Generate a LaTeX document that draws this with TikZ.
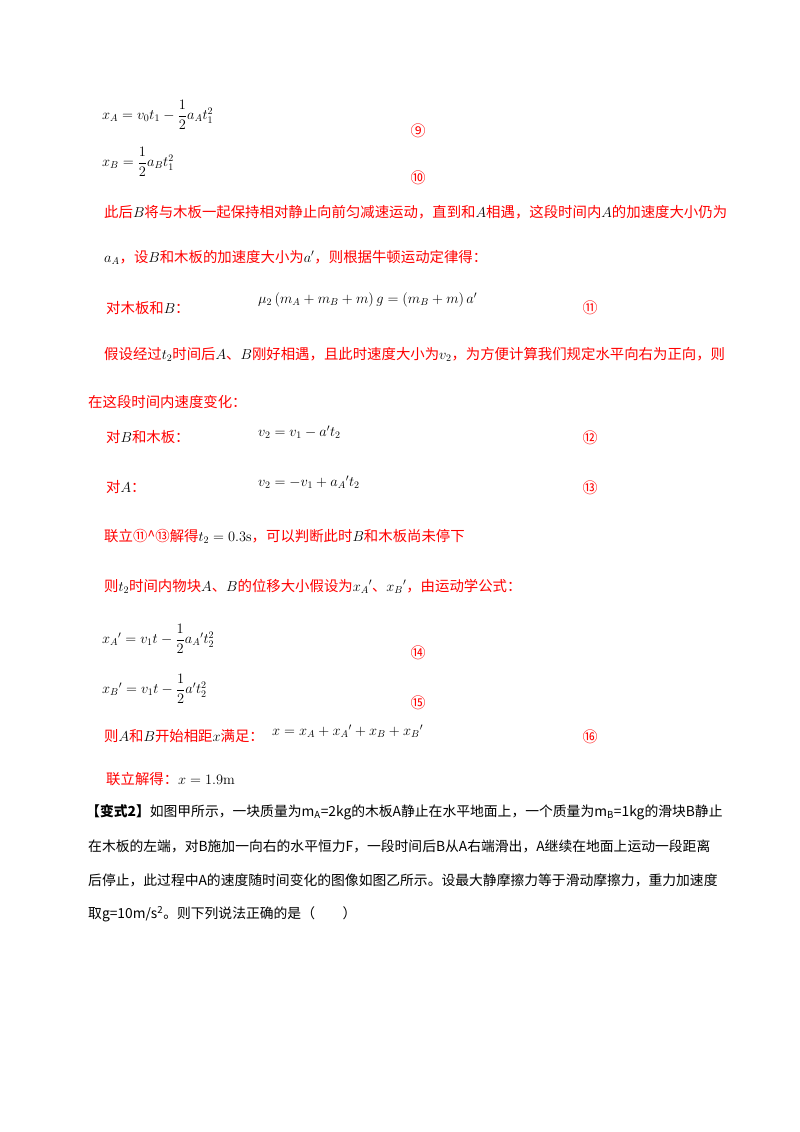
\documentclass[tikz,border=0pt]{standalone}
\usepackage{fontspec}
\usepackage{amsmath}
\newfontfamily\cjk{Noto Sans CJK SC}
\newcommand{\bk}[1]{\textcolor{black}{$#1$}}
\begin{document}
\begin{tikzpicture}[x=1pt,y=-1pt,
  rt/.style={anchor=west,inner sep=0pt,text=red,font=\cjk\fontsize{14.4}{16}\selectfont},
  bt/.style={anchor=west,inner sep=0pt,text=black,font=\cjk\fontsize{13.8}{16}\selectfont},
  eq/.style={anchor=west,inner sep=0pt,font=\fontsize{14}{16}\selectfont},
  num/.style={anchor=center,inner sep=0pt,text=red,font=\cjk\fontsize{15}{17}\selectfont}]
\fill[white] (0,0) rectangle (800,1132);
\node[eq] (e9) at (102,115) {$x_A=v_0t_1-\dfrac12 a_At_1^2$};
\node[num] (n9) at (418,131) {⑨};
\node[eq] (e10) at (102,162) {$x_B=\dfrac12 a_Bt_1^2$};
\node[num] (n10) at (418,178) {⑩};
\node[rt] (l1) at (104,212) {此后\bk{B}将与木板一起保持相对静止向前匀减速运动，直到和\bk{A}相遇，这段时间内\bk{A}的加速度大小仍为};
\node[rt] (l2) at (104,257) {\bk{a_A}，设\bk{B}和木板的加速度大小为\bk{a'}，则根据牛顿运动定律得：};
\node[rt] (l3) at (106,308) {对木板和\bk{B}：};
\node[eq] (e11) at (258,300) {$\mu_2\left(m_A+m_B+m\right)g=\left(m_B+m\right)a'$};
\node[num] (n11) at (590,308) {⑪};
\node[rt] (l4) at (104,354) {假设经过\bk{t_2}时间后\bk{A}、\bk{B}刚好相遇，且此时速度大小为\bk{v_2}，为方便计算我们规定水平向右为正向，则};
\node[rt] (l5) at (88,402) {在这段时间内速度变化：};
\node[rt] (l6) at (106,437) {对\bk{B}和木板：};
\node[eq] (e12) at (258,432) {$v_2=v_1-a't_2$};
\node[num] (n12) at (590,438) {⑫};
\node[rt] (l7) at (106,487) {对\bk{A}：};
\node[eq] (e13) at (258,482) {$v_2=-v_1+a_A{}'t_2$};
\node[num] (n13) at (590,488) {⑬};
\node[rt] (l8) at (104,536) {联立⑪\textasciicircum⑬解得\bk{t_2=0.3\mathrm{s}}，可以判断此时\bk{B}和木板尚未停下};
\node[rt] (l9) at (104,586) {则\bk{t_2}时间内物块\bk{A}、\bk{B}的位移大小假设为\bk{x_A{}'}、\bk{x_B{}'}，由运动学公式：};
\node[eq] (e14) at (102,639) {$x_A{}'=v_1t-\dfrac12 a_A{}'t_2^2$};
\node[num] (n14) at (418,653) {⑭};
\node[eq] (e15) at (102,689) {$x_B{}'=v_1t-\dfrac12 a't_2^2$};
\node[num] (n15) at (418,703) {⑮};
\node[rt] (l10) at (104,736) {则\bk{A}和\bk{B}开始相距\bk{x}满足：};
\node[eq] (e16) at (272,731) {$x=x_A+x_A{}'+x_B+x_B{}'$};
\node[num] (n16) at (590,737) {⑯};
\node[rt] (l11) at (106,779) {联立解得：\bk{x=1.9\mathrm{m}}};
\node[bt] (b1) at (86,812) {\textbf{【变式2】}如图甲所示，一块质量为m\textsubscript{A}=2kg的木板A静止在水平地面上，一个质量为m\textsubscript{B}=1kg的滑块B静止};
\node[bt] (b2) at (88,846) {在木板的左端，对B施加一向右的水平恒力F，一段时间后B从A右端滑出，A继续在地面上运动一段距离};
\node[bt] (b3) at (88,880) {后停止，此过程中A的速度随时间变化的图像如图乙所示。设最大静摩擦力等于滑动摩擦力，重力加速度};
\node[bt] (b4) at (88,914) {取g=10m/s\textsuperscript{2}。则下列说法正确的是（\quad\quad）};
\end{tikzpicture}
\end{document}
